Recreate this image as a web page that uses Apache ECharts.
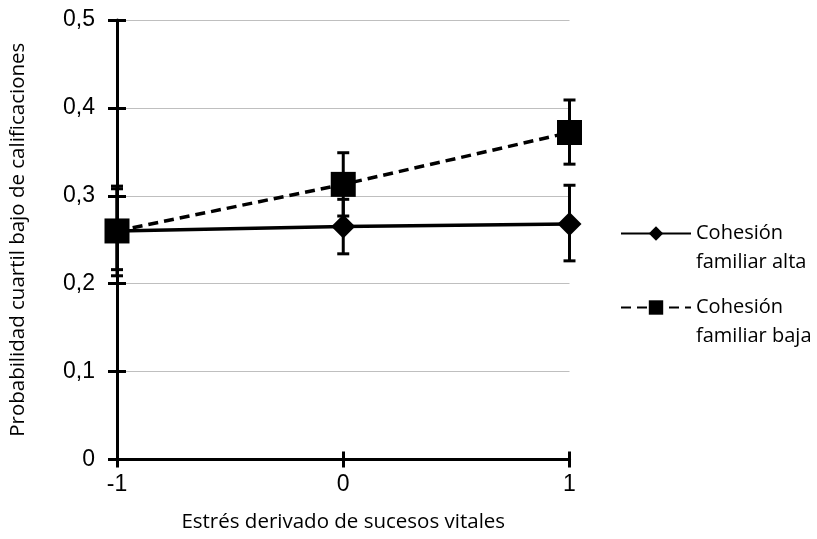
<!DOCTYPE html>
<html>
<head>
<meta charset="utf-8">
<script src="https://cdn.jsdelivr.net/npm/echarts@6/dist/echarts.min.js"></script>
<style>
html,body{margin:0;padding:0;background:#fff;}
#chart{width:817px;height:539px;}
</style>
</head>
<body>
<div id="chart"></div>
<script>
// ---- data ----
var xValues = [-1, 0, 1];
var xTickLabels = ['-1', '0', '1'];
var yTickLabels = ['0', '0,1', '0,2', '0,3', '0,4', '0,5'];
var seriesNames = ['Cohesión familiar alta', 'Cohesión familiar baja'];
var legendLabels = ['Cohesión\nfamiliar alta', 'Cohesión\nfamiliar baja'];
var altaMean = [0.260, 0.265, 0.268];
var altaLow  = [0.209, 0.234, 0.226];
var altaHigh = [0.311, 0.296, 0.312];
var bajaMean = [0.260, 0.313, 0.372];
var bajaLow  = [0.216, 0.277, 0.336];
var bajaHigh = [0.308, 0.349, 0.409];
var xTitle = 'Estrés derivado de sucesos vitales';
var yTitle = 'Probabilidad cuartil bajo de calificaciones';

function pts(xs, ys) { return xs.map(function (x, i) { return [x, ys[i]]; }); }
function errs(xs, lo, hi) { return xs.map(function (x, i) { return [x, lo[i], hi[i]]; }); }

var chart = echarts.init(document.getElementById('chart'), null, { renderer: 'canvas' });

function renderErr(params, api) {
  var x = api.value(0), lo = api.value(1), hi = api.value(2);
  var a = api.coord([x, lo]), b = api.coord([x, hi]);
  var hw = 6;
  var st = { stroke: '#000', lineWidth: 3 };
  return {
    type: 'group',
    children: [
      { type: 'line', shape: { x1: a[0], y1: a[1], x2: b[0], y2: b[1] }, style: st },
      { type: 'line', shape: { x1: a[0] - hw, y1: a[1], x2: a[0] + hw, y2: a[1] }, style: st },
      { type: 'line', shape: { x1: b[0] - hw, y1: b[1], x2: b[0] + hw, y2: b[1] }, style: st }
    ]
  };
}

var labelFont = 'Liberation Sans';
var titleFont = 'Open Sans';
var LH = 29;

function legendFor(i, top) {
  return {
    show: true,
    data: [seriesNames[i]],
    orient: 'vertical',
    left: 620,
    top: top,
    padding: 0,
    itemWidth: 70,
    itemHeight: 18,
    itemGap: 0,
    formatter: function () { return '\n' + legendLabels[i]; },
    textStyle: {
      fontFamily: titleFont, fontSize: 20, color: '#000', lineHeight: LH
    }
  };
}

var option = {
  animation: false,
  backgroundColor: '#fff',
  grid: { left: 117, right: 247.5, top: 20, bottom: 79.5, containLabel: false },
  legend: [legendFor(0, 190), legendFor(1, 264)],
  xAxis: [{
    type: 'value', min: -1, max: 1, interval: 1, position: 'bottom',
    name: xTitle, nameLocation: 'middle', nameGap: 52,
    nameTextStyle: { fontFamily: titleFont, fontSize: 20.5, color: '#000' },
    axisLine: { show: true, onZero: false, lineStyle: { color: '#000', width: 3 } },
    axisTick: { show: true, inside: false, length: 8, lineStyle: { color: '#000', width: 3 } },
    axisLabel: { margin: 14, fontFamily: labelFont, fontSize: 23, color: '#000',
      formatter: function (v) { return xTickLabels[xValues.indexOf(v)]; } },
    splitLine: { show: false }
  }, {
    type: 'value', min: -1, max: 1, interval: 1, position: 'bottom',
    axisLine: { show: false, onZero: false },
    axisTick: { show: true, inside: true, length: 8, lineStyle: { color: '#000', width: 3 } },
    axisLabel: { show: false }, splitLine: { show: false }
  }],
  yAxis: [{
    type: 'value', min: 0, max: 0.5, interval: 0.1, position: 'left',
    name: yTitle, nameLocation: 'middle', nameGap: 88,
    nameTextStyle: { fontFamily: titleFont, fontSize: 20.5, color: '#000' },
    axisLine: { show: true, onZero: false, lineStyle: { color: '#000', width: 3 } },
    axisTick: { show: true, inside: false, length: 9, lineStyle: { color: '#000', width: 3 } },
    axisLabel: { margin: 22, fontFamily: labelFont, fontSize: 23, color: '#000',
      formatter: function (v) { return yTickLabels[Math.round(v * 10)]; } },
    splitLine: { show: true, lineStyle: { color: '#bfbfbf', width: 1 } }
  }, {
    type: 'value', min: 0, max: 0.5, interval: 0.1, position: 'left',
    axisLine: { show: false, onZero: false },
    axisTick: { show: true, inside: true, length: 9, lineStyle: { color: '#000', width: 3 } },
    axisLabel: { show: false }, splitLine: { show: false }
  }],
  series: [
    {
      type: 'custom', name: 'errAlta', renderItem: renderErr,
      data: errs(xValues, altaLow, altaHigh), encode: { x: 0, y: [1, 2] }, z: 1, silent: true
    },
    {
      type: 'custom', name: 'errBaja', renderItem: renderErr,
      data: errs(xValues, bajaLow, bajaHigh), encode: { x: 0, y: [1, 2] }, z: 1, silent: true
    },
    {
      type: 'line', name: seriesNames[0], data: pts(xValues, altaMean),
      symbol: 'diamond', symbolSize: 24, z: 3,
      lineStyle: { color: '#000', width: 3.5, type: 'solid' },
      itemStyle: { color: '#000' }
    },
    {
      type: 'line', name: seriesNames[1], data: pts(xValues, bajaMean),
      symbol: 'rect', symbolSize: 25, z: 4,
      lineStyle: { color: '#000', width: 3.5, type: [10, 6] },
      itemStyle: { color: '#000' }
    }
  ]
};
chart.setOption(option);
</script>
</body>
</html>
